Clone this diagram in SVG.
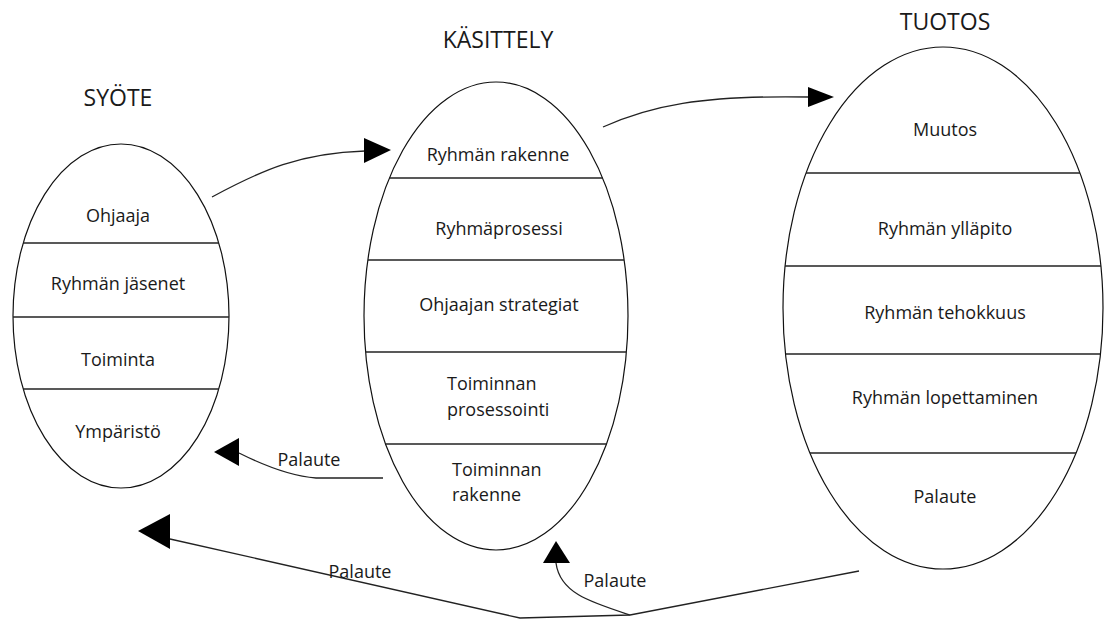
<svg xmlns="http://www.w3.org/2000/svg" width="1104" height="619" viewBox="0 0 1104 619">
<style>
.el{fill:#fff;stroke:#111;stroke-width:1.2}
.dv{stroke:#222;stroke-width:1.5;fill:none}
.t{font-family:"Open Sans","Liberation Sans",sans-serif;font-size:18px;fill:#1a1a1a;text-anchor:middle}
.ts{font-family:"Open Sans","Liberation Sans",sans-serif;font-size:18px;fill:#1a1a1a;text-anchor:start}
.h{font-family:"Open Sans","Liberation Sans",sans-serif;font-size:23px;fill:#1a1a1a;text-anchor:middle}
.cn{fill:none;stroke:#222;stroke-width:1.3}
.ah{fill:#000;stroke:none}
</style>
<rect width="1104" height="619" fill="#fff"/>
<g id="syote">
<text class="h" x="118" y="106">SYÖTE</text>
<ellipse class="el" cx="121" cy="316" rx="108" ry="172"/>
<line class="dv" x1="23" y1="243" x2="219" y2="243"/>
<line class="dv" x1="13" y1="317" x2="229" y2="317"/>
<line class="dv" x1="23" y1="389" x2="219" y2="389"/>
<text class="t" x="118" y="222">Ohjaaja</text>
<text class="t" x="118" y="290">Ryhmän jäsenet</text>
<text class="t" x="118" y="366">Toiminta</text>
<text class="t" x="118" y="438">Ympäristö</text>
</g>
<g id="kasittely">
<text class="h" x="498" y="48">KÄSITTELY</text>
<ellipse class="el" cx="496" cy="316" rx="132" ry="234"/>
<line class="dv" x1="389" y1="178" x2="603" y2="178"/>
<line class="dv" x1="368" y1="260" x2="624" y2="260"/>
<line class="dv" x1="366" y1="352" x2="626" y2="352"/>
<line class="dv" x1="386" y1="444" x2="606" y2="444"/>
<text class="t" x="498" y="161">Ryhmän rakenne</text>
<text class="t" x="499" y="235">Ryhmäprosessi</text>
<text class="t" x="499" y="311">Ohjaajan strategiat</text>
<text class="ts" x="447" y="390">Toiminnan</text>
<text class="ts" x="447" y="416">prosessointi</text>
<text class="ts" x="452" y="476">Toiminnan</text>
<text class="ts" x="452" y="501">rakenne</text>
</g>
<g id="tuotos">
<text class="h" x="945" y="30">TUOTOS</text>
<ellipse class="el" cx="943" cy="308" rx="160" ry="261"/>
<line class="dv" x1="806" y1="173" x2="1080" y2="173"/>
<line class="dv" x1="785" y1="266" x2="1101" y2="266"/>
<line class="dv" x1="786" y1="354" x2="1100" y2="354"/>
<line class="dv" x1="810" y1="453" x2="1076" y2="453"/>
<text class="t" x="945" y="136">Muutos</text>
<text class="t" x="945" y="235">Ryhmän ylläpito</text>
<text class="t" x="945" y="319">Ryhmän tehokkuus</text>
<text class="t" x="945" y="404">Ryhmän lopettaminen</text>
<text class="t" x="945" y="503">Palaute</text>
</g>
<g id="connectors">
<path class="cn" d="M212,197 C262,170 300,153 365,151"/>
<polygon class="ah" points="391,150 364,138 364,163"/>
<path class="cn" d="M603,127 C650,106 700,95 809,97"/>
<polygon class="ah" points="834,97 808,87 808,107"/>
<path class="cn" d="M383,478 L316,478 C290,476 265,466 239,453"/>
<polygon class="ah" points="214,452 239,438 239,466"/>
<path class="cn" d="M859,571 L630,615 L520,618 L170,539"/>
<polygon class="ah" points="138,531 170,514 170,549"/>
<path class="cn" d="M630,615 C590,602 560,593 556,563"/>
<polygon class="ah" points="556,541 543,563 570,563"/>
<text class="t" x="309" y="466">Palaute</text>
<text class="t" x="360" y="578">Palaute</text>
<text class="t" x="615" y="587">Palaute</text>
</g>
</svg>
